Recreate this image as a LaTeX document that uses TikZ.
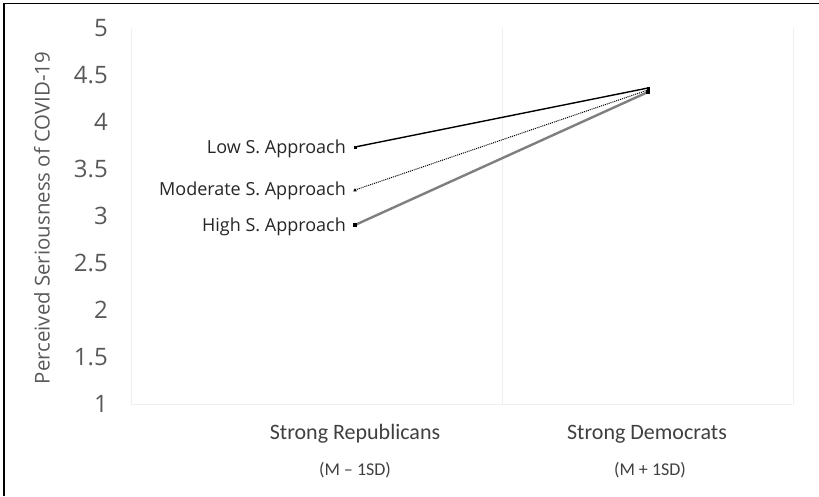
\documentclass[tikz,border=0pt]{standalone}
\usepackage{fontspec}
\setmainfont{Open Sans}
\newfontfamily\calib{Carlito}
\definecolor{tickgray}{HTML}{595959}
\definecolor{labgray}{HTML}{404040}
\definecolor{gridc}{HTML}{EFEFEF}
\definecolor{highgray}{HTML}{7F7F7F}
\begin{document}
\begin{tikzpicture}[x=1pt,y=-1pt,
  tick/.style={font=\fontsize{24}{24}\selectfont, text=tickgray, anchor=east, inner sep=0pt},
  series/.style={font=\fontsize{18}{18}\selectfont, text=black!85, anchor=east, inner sep=0pt},
  cat/.style={font=\calib\fontsize{22}{22}\selectfont, text=labgray, inner sep=0pt},
  sub/.style={font=\calib\fontsize{18}{18}\selectfont, text=labgray, inner sep=0pt},
  grid line/.style={draw=gridc, line width=0.8pt},
  pt/.style={inner sep=0pt, minimum size=0pt}]
\useasboundingbox (0,0) rectangle (819,496);
\fill[white] (0,0) rectangle (819,496);
% frame (top and left only)
\draw[line width=1.5pt] (4,496) -- (4,3.5) -- (819,3.5);
% gridlines
\draw[grid line] (131,28) -- (131,404);
\draw[grid line] (502,28) -- (502,404);
\draw[grid line] (793,28) -- (793,404);
\draw[grid line] (131,404) -- (793,404);
% y tick labels
\foreach \v in {1,1.5,2,2.5,3,3.5,4,4.5,5}
  \node[tick] at (108,{404-(\v-1)*94}) {\v};
% axis title
\node[rotate=90, font=\fontsize{20.4}{20.4}\selectfont, text=tickgray, inner sep=0pt] (ytitle) at (42,218) {Perceived Seriousness of COVID-19};
% data points
\node[pt] (L1) at (355,147) {};
\node[pt] (L2) at (648,88) {};
\node[pt] (M1) at (355,190) {};
\node[pt] (M2) at (648,90) {};
\node[pt] (H1) at (355,225) {};
\node[pt] (H2) at (648,92) {};
% lines
\draw[highgray, line width=2.4pt] (H1.center) -- (H2.center);
\draw[black, line width=1pt, dash pattern=on 1pt off 1pt] (M1.center) -- (M2.center);
\draw[black, line width=1.4pt] (L1.center) -- (L2.center);
% markers
\fill (L1) +(-1.5,-1.5) rectangle +(1.5,1.5);
\fill (L2) +(-1.5,-1.5) rectangle +(1.5,1.5);
\fill (M1) +(-1.8,1.4) -- +(1.8,1.4) -- +(0,-1.8) -- cycle;
\fill (M2) +(-1.8,1.4) -- +(1.8,1.4) -- +(0,-1.8) -- cycle;
\fill (H1) +(-2,-2) rectangle +(2,2);
\fill (H2) +(-2,-2) rectangle +(2,2);
% series labels
\node[series] (lowlab) at (346,149) {Low S. Approach};
\node[series] (modlab) at (346,191) {Moderate S. Approach};
\node[series] (highlab) at (346,227) {High S. Approach};
% category labels
\node[cat] (rep) at (355,434) {Strong Republicans};
\node[cat] (dem) at (647,434) {Strong Democrats};
\node[sub] (repsd) at (355,470) {(M – 1SD)};
\node[sub] (demsd) at (650,470) {(M + 1SD)};
\end{tikzpicture}
\end{document}
